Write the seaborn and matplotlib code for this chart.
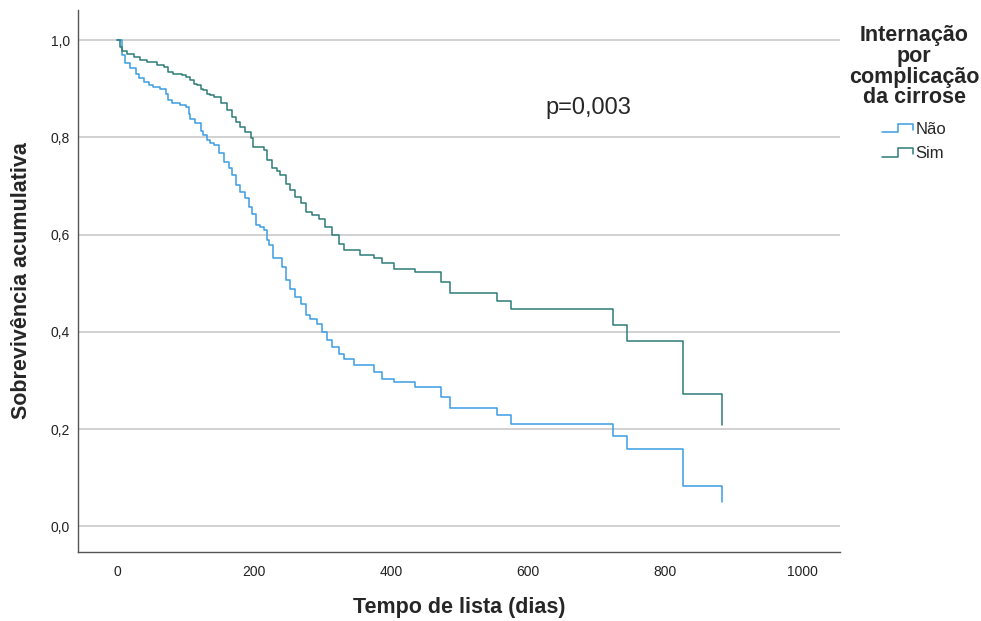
import seaborn as sns
import matplotlib.pyplot as plt
import numpy as np
import pandas as pd
from matplotlib.lines import Line2D
from matplotlib.legend_handler import HandlerLine2D
from matplotlib.ticker import FuncFormatter

# Kaplan-Meier steps (time in days, cumulative survival)
tempo_nao = [0, 7, 12, 19, 27, 32, 39, 46, 53, 63, 71, 75, 80, 92, 100, 105,
             107, 114, 122, 126, 131, 136, 141, 148, 156, 163, 168, 173, 180,
             187, 192, 197, 202, 209, 214, 219, 221, 227, 241, 246, 253, 260,
             268, 275, 282, 292, 299, 307, 314, 324, 331, 345, 375, 387, 404,
             434, 472, 486, 555, 574, 723, 744, 826, 883]
surv_nao = [1.0, 0.969, 0.952, 0.942, 0.931, 0.921, 0.914, 0.907, 0.904,
            0.900, 0.890, 0.877, 0.870, 0.866, 0.863, 0.849, 0.838, 0.829,
            0.812, 0.805, 0.794, 0.788, 0.784, 0.767, 0.750, 0.736, 0.722,
            0.702, 0.688, 0.675, 0.657, 0.643, 0.619, 0.616, 0.609, 0.588,
            0.578, 0.551, 0.534, 0.506, 0.489, 0.472, 0.458, 0.434, 0.427,
            0.417, 0.400, 0.383, 0.369, 0.355, 0.345, 0.331, 0.317, 0.302,
            0.296, 0.287, 0.266, 0.243, 0.228, 0.211, 0.185, 0.158, 0.082,
            0.050]

tempo_sim = [0, 5, 7, 15, 24, 34, 44, 58, 68, 75, 81, 95, 101, 107, 112, 117,
             122, 126, 131, 136, 141, 151, 161, 168, 174, 180, 187, 195, 199,
             214, 219, 226, 233, 238, 246, 253, 260, 268, 275, 285, 294, 304,
             314, 324, 331, 355, 375, 387, 404, 434, 472, 486, 555, 574, 723,
             744, 826, 883]
surv_sim = [1.0, 0.986, 0.977, 0.971, 0.966, 0.959, 0.954, 0.949, 0.945,
            0.935, 0.931, 0.928, 0.924, 0.918, 0.910, 0.907, 0.900, 0.897,
            0.890, 0.887, 0.883, 0.870, 0.856, 0.842, 0.832, 0.822, 0.811,
            0.798, 0.780, 0.774, 0.753, 0.737, 0.730, 0.722, 0.705, 0.691,
            0.678, 0.664, 0.647, 0.640, 0.633, 0.616, 0.599, 0.580, 0.568,
            0.558, 0.551, 0.541, 0.530, 0.522, 0.503, 0.480, 0.464, 0.446,
            0.415, 0.381, 0.272, 0.208]

grupos = ["Não", "Sim"]
cores = {"Não": "#3a9de3", "Sim": "#2e7c78"}
x_ticks = [0, 200, 400, 600, 800, 1000]
y_ticks = [0.0, 0.2, 0.4, 0.6, 0.8, 1.0]

df = pd.concat([
    pd.DataFrame({"tempo": tempo_nao, "surv": surv_nao, "grupo": "Não"}),
    pd.DataFrame({"tempo": tempo_sim, "surv": surv_sim, "grupo": "Sim"}),
])


class HandlerStep(HandlerLine2D):
    """Legend key drawn as a small step, like the SPSS survival legend."""

    def create_artists(self, legend, orig_handle, xdescent, ydescent,
                       width, height, fontsize, trans):
        xs = np.array([0, 0.5, 0.5, 1, 1]) * width - xdescent
        ys = np.array([0.15, 0.15, 0.85, 0.85, 0.35]) * height - ydescent
        line = Line2D(xs, ys)
        self.update_prop(line, orig_handle, legend)
        line.set_transform(trans)
        return [line]


sns.set_style("white")
plt.rcParams["font.family"] = ["Liberation Sans", "DejaVu Sans"]

fig = plt.figure(figsize=(9.81, 6.21), dpi=100)
ax = fig.add_axes([0.0795, 0.111, 0.777, 0.873])

for y in y_ticks:
    ax.axhline(y, color="#cacaca", linewidth=1.2, zorder=0)

sns.lineplot(
    data=df, x="tempo", y="surv", hue="grupo", hue_order=grupos,
    palette=cores, drawstyle="steps-post", estimator=None, sort=False,
    linewidth=1.1, ax=ax,
)

ax.set_xlim(-57, 1055)
ax.set_ylim(-0.053, 1.062)
ax.set_xticks(x_ticks)
ax.set_yticks(y_ticks)
ax.yaxis.set_major_formatter(
    FuncFormatter(lambda v, p: f"{v:.1f}".replace(".", ",")))
ax.tick_params(axis="both", length=0, colors="#222222", labelsize=10)
ax.tick_params(axis="x", pad=9)
ax.tick_params(axis="y", pad=6)

for s in ["top", "right"]:
    ax.spines[s].set_visible(False)
for s in ["left", "bottom"]:
    ax.spines[s].set_color("#555555")
    ax.spines[s].set_linewidth(1.0)

ax.set_xlabel("Tempo de lista (dias)", fontsize=15.5, fontweight="bold",
              labelpad=13)
ax.set_ylabel("Sobrevivência acumulativa", fontsize=15.5, fontweight="bold",
              labelpad=13)

ax.text(688, 0.86, "p=0,003", fontsize=17, ha="center", va="center")

handles, labels = ax.get_legend_handles_labels()
leg = ax.legend(
    handles, labels,
    title="Internação\npor\ncomplicação\nda cirrose",
    loc="upper center", bbox_to_anchor=(1.097, 0.987), frameon=False,
    fontsize=12, handlelength=1.85, handletextpad=0.15, labelspacing=0.55,
    borderpad=0, handler_map={h: HandlerStep() for h in handles},
)
leg.get_title().set_fontweight("bold")
leg.get_title().set_fontsize(15.5)
leg.get_title().set_linespacing(0.98)
leg.get_title().set_multialignment("center")
leg._legend_box.sep = 10  # gap between the title and the two entries

fig.savefig("out.png", dpi=100)
